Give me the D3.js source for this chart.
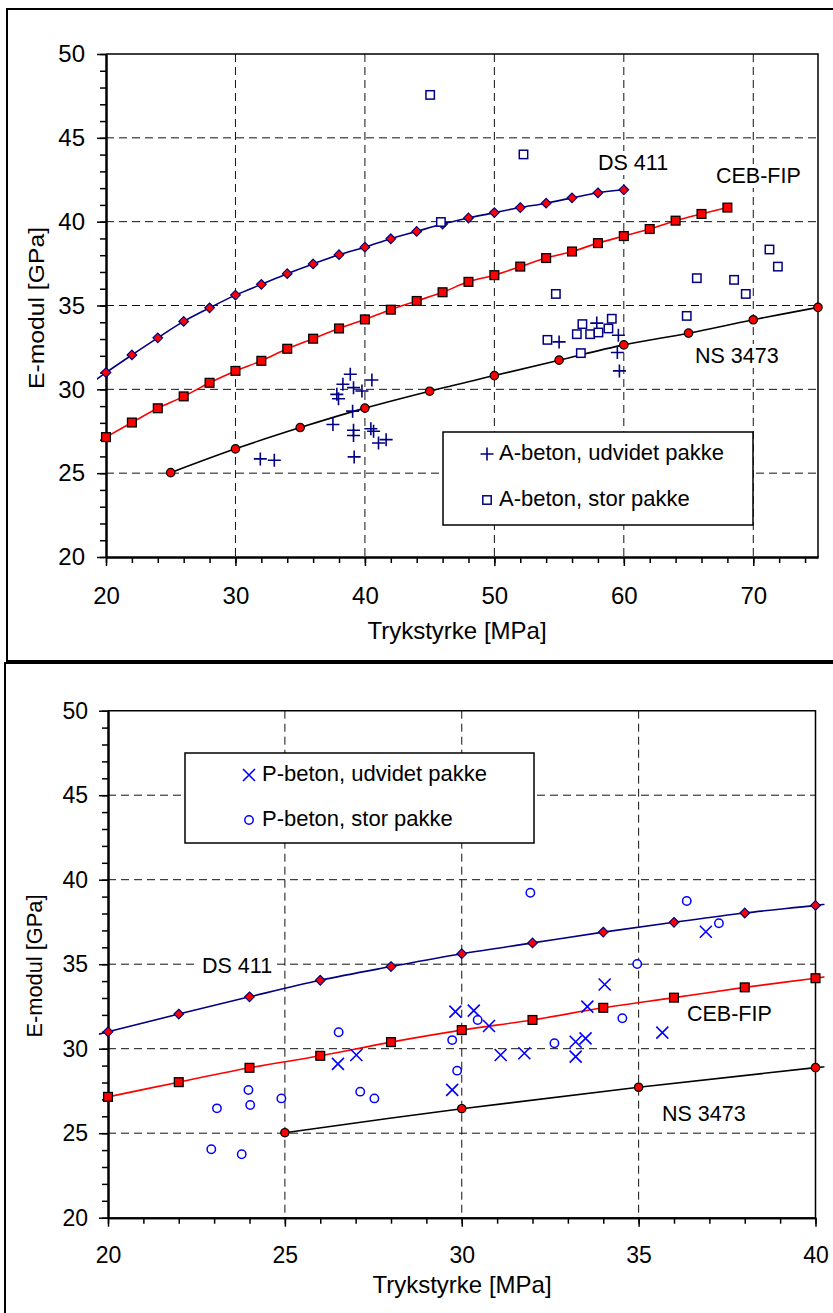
<!DOCTYPE html>
<html>
<head>
<meta charset="utf-8">
<script src="https://cdn.jsdelivr.net/npm/d3@7"></script>
<style>
  body { margin: 0; background: #fff; }
  svg { display: block; font-family: "Liberation Sans", Arial, sans-serif; }
</style>
</head>
<body>
<svg id="chart" width="833" height="1313"></svg>
<script>
// code curves (both panels share them, the lower one just shows 20-40 MPa)
const dsX  = [18, 20, 22, 24, 26, 28, 30, 32, 34, 36, 38, 40, 42, 44, 46, 48, 50, 52, 54, 56, 58, 60];
const dsY  = [29.9, 31.0, 32.05, 33.07, 34.05, 34.86, 35.62, 36.26, 36.9, 37.48, 38.03, 38.48, 38.98, 39.42, 39.86, 40.22, 40.54, 40.84, 41.1, 41.42, 41.72, 41.9];
const cebX = [20, 22, 24, 26, 28, 30, 32, 34, 36, 38, 40, 42, 44, 46, 48, 50, 52, 54, 56, 58, 60, 62, 64, 66, 68];
const cebY = [27.15, 28.02, 28.87, 29.58, 30.39, 31.1, 31.7, 32.42, 33.02, 33.63, 34.17, 34.75, 35.27, 35.79, 36.41, 36.81, 37.32, 37.83, 38.22, 38.72, 39.14, 39.56, 40.06, 40.46, 40.84];
const nsX  = [25, 30, 35, 40, 45, 50, 55, 60, 65, 70, 75];
const nsY  = [25.03, 26.45, 27.72, 28.88, 29.89, 30.82, 31.74, 32.65, 33.35, 34.15, 34.89];

// A-beton measurements (top panel)
const aUdvX = [31.92, 33.0, 37.53, 37.83, 37.96, 38.3, 38.87, 39.12, 39.77, 39.05, 39.12, 39.12, 39.17, 40.54, 40.46, 40.67, 41.05, 41.64, 55.0, 57.91, 59.58, 59.5, 59.66];
const aUdvY = [25.85, 25.77, 27.9, 29.7, 29.44, 30.3, 30.9, 30.1, 29.9, 28.7, 27.56, 27.25, 25.97, 30.56, 27.65, 27.5, 26.8, 27.0, 32.83, 33.95, 33.23, 32.2, 31.1];
const aStorX = [45.04, 52.25, 45.87, 54.75, 71.25, 71.9, 65.64, 68.52, 69.42, 64.86, 54.1, 56.68, 56.37, 57.4, 56.8, 58.04, 58.81, 59.07];
const aStorY = [47.56, 44.01, 39.98, 35.69, 38.34, 37.32, 36.63, 36.53, 35.69, 34.38, 32.95, 32.16, 33.29, 33.29, 33.89, 33.39, 33.63, 34.21];

// P-beton measurements (bottom panel)
const pUdvX = [26.5, 27.02, 29.82, 30.34, 30.77, 31.1, 31.77, 29.73, 33.55, 33.22, 33.5, 33.22, 35.67, 34.04, 36.9];
const pUdvY = [29.1, 29.63, 32.19, 32.25, 31.34, 29.63, 29.73, 27.56, 32.49, 30.41, 30.61, 29.53, 30.95, 33.8, 36.92];
const pStorX = [26.52, 23.08, 23.97, 24.02, 24.9, 22.92, 23.78, 27.13, 27.53, 31.94, 36.36, 37.27, 34.96, 30.45, 29.73, 29.87, 32.62, 34.54];
const pStorY = [30.97, 26.47, 27.56, 26.67, 27.06, 24.05, 23.75, 27.46, 27.06, 39.23, 38.74, 37.42, 35.01, 31.7, 30.51, 28.7, 30.32, 31.8];

const yTicks = [20, 25, 30, 35, 40, 45, 50];
const xTicksTop = [20, 30, 40, 50, 60, 70];
const xTicksBottom = [20, 25, 30, 35, 40];

const zip = (xs, ys) => xs.map((v, i) => [v, ys[i]]);

const svg = d3.select("#chart");
const FONT = "Liberation Sans, Arial, sans-serif";

// outer frames
svg.append("rect").attr("x", 7).attr("y", 9).attr("width", 840).attr("height", 652)
   .attr("fill", "none").attr("stroke", "#000").attr("stroke-width", 2);
svg.append("rect").attr("x", 5).attr("y", 663).attr("width", 840).attr("height", 700)
   .attr("fill", "none").attr("stroke", "#000").attr("stroke-width", 2);

const markers = {
  diamond: (s, r) => s.append("path").attr("d", `M0,${-r}L${r},0L0,${r}L${-r},0Z`)
                      .attr("fill", "#ff0000").attr("stroke", "#000080").attr("stroke-width", 1.2),
  square: (s, r) => s.append("rect").attr("x", -r).attr("y", -r).attr("width", 2 * r).attr("height", 2 * r)
                      .attr("fill", "#ff0000").attr("stroke", "#000").attr("stroke-width", 1.3),
  dot: (s, r) => s.append("circle").attr("r", r)
                      .attr("fill", "#ff0000").attr("stroke", "#000").attr("stroke-width", 1.2),
  plus: (s, r, c) => s.append("path").attr("d", `M${-r},0H${r}M0,${-r}V${r}`)
                      .attr("stroke", c).attr("stroke-width", 1.6).attr("fill", "none"),
  box: (s, r, c) => s.append("rect").attr("x", -r).attr("y", -r).attr("width", 2 * r).attr("height", 2 * r)
                      .attr("fill", "#fff").attr("stroke", c).attr("stroke-width", 1.5),
  cross: (s, r, c) => s.append("path").attr("d", `M${-r},${-r}L${r},${r}M${-r},${r}L${r},${-r}`)
                      .attr("stroke", c).attr("stroke-width", 1.6).attr("fill", "none"),
  ring: (s, r, c) => s.append("circle").attr("r", r)
                      .attr("fill", "#fff").attr("stroke", c).attr("stroke-width", 1.5)
};

function panel(p) {
  const g = svg.append("g");
  const x = d3.scaleLinear().domain(p.xDomain).range([p.left, p.right]);
  const y = d3.scaleLinear().domain([20, 50]).range([p.bottom, p.top]);
  const inX = v => v >= p.xDomain[0] - 1e-9 && v <= p.xDomain[1] + 1e-9;

  // dashed grid
  g.append("g").selectAll("line")
    .data(p.xTicks.filter(v => v > p.xDomain[0] && v < p.xDomain[1]))
    .join("line")
    .attr("x1", d => x(d)).attr("x2", d => x(d)).attr("y1", p.top).attr("y2", p.bottom)
    .attr("stroke", "#111").attr("stroke-dasharray", "8,5");
  g.append("g").selectAll("line")
    .data(yTicks.filter(v => v > 20 && v < 50))
    .join("line")
    .attr("x1", p.left).attr("x2", p.right).attr("y1", d => y(d)).attr("y2", d => y(d))
    .attr("stroke", "#111").attr("stroke-dasharray", "8,5");

  g.append("path").attr("d", `M${p.left},${p.top}H${p.right}V${p.bottom}`)
    .attr("fill", "none").attr("stroke", "#000").attr("stroke-width", 1.5);

  // axes: minor then major
  const minorX = d3.range(p.xDomain[0], p.xDomain[1] + 0.001, p.xMinor);
  const minorY = d3.range(20, 50.001, 1);
  g.append("g").attr("transform", `translate(0,${p.bottom})`)
    .call(d3.axisBottom(x).tickValues(minorX).tickSize(6).tickFormat("").tickSizeOuter(0));
  g.append("g").attr("transform", `translate(${p.left},0)`)
    .call(d3.axisLeft(y).tickValues(minorY).tickSize(6).tickFormat("").tickSizeOuter(0));
  const ax = g.append("g").attr("transform", `translate(0,${p.bottom})`)
    .call(d3.axisBottom(x).tickValues(p.xTicks).tickSize(9).tickPadding(p.xPad).tickSizeOuter(0).tickFormat(d3.format("d")));
  const ay = g.append("g").attr("transform", `translate(${p.left},0)`)
    .call(d3.axisLeft(y).tickValues(yTicks).tickSize(9).tickPadding(p.yPad).tickSizeOuter(0).tickFormat(d3.format("d")));
  g.selectAll(".domain").attr("stroke", "#000").attr("stroke-width", 2);
  g.selectAll(".tick line").attr("stroke", "#000").attr("stroke-width", 1.5);
  [ax, ay].forEach(a => a.selectAll("text").attr("font-family", FONT).attr("font-size", p.tickFont).attr("fill", "#000"));

  // axis titles
  g.append("text").attr("x", p.xTitle[0]).attr("y", p.xTitle[1]).attr("text-anchor", "middle")
    .attr("font-size", 24).text("Trykstyrke [MPa]");
  g.append("text").attr("transform", `translate(${p.yTitle[0]},${p.yTitle[1]}) rotate(-90)`)
    .attr("text-anchor", "middle").attr("font-size", p.yTitle[2])
    .attr("textLength", p.yTitle[3]).attr("lengthAdjust", "spacingAndGlyphs").text("E-modul [GPa]");

  // code curves, clipped a little outside the plot like the original
  const clipId = "clip" + p.id;
  svg.append("clipPath").attr("id", clipId).append("rect")
    .attr("x", p.left - 9).attr("y", p.top - 2).attr("width", p.right - p.left + 18).attr("height", p.bottom - p.top + 4);
  const line = d3.line().x(d => x(d[0])).y(d => y(d[1])).curve(d3.curveCatmullRom.alpha(0.5));
  const curves = [
    { pts: zip(dsX, dsY), color: "#000080", mark: "diamond", r: 4.8 },
    { pts: zip(cebX, cebY), color: "#ff0000", mark: "square", r: 4.4 },
    { pts: zip(nsX, nsY), color: "#000", mark: "dot", r: 4.2 }
  ];
  curves.forEach(c => {
    g.append("path").attr("d", line(c.pts)).attr("clip-path", `url(#${clipId})`)
      .attr("fill", "none").attr("stroke", c.color).attr("stroke-width", 1.6);
    g.append("g").selectAll("g").data(c.pts.filter(d => inX(d[0]))).join("g")
      .attr("transform", d => `translate(${x(d[0])},${y(d[1])})`)
      .each(function () { markers[c.mark](d3.select(this), c.r); });
  });

  // measurements
  p.scatter.forEach(s => {
    g.append("g").selectAll("g").data(s.pts).join("g")
      .attr("transform", d => `translate(${x(d[0])},${y(d[1])})`)
      .each(function () { markers[s.mark](d3.select(this), s.r, s.color); });
  });

  // curve labels with white backing
  p.labels.forEach(l => {
    const lg = g.append("g");
    const t = lg.append("text").attr("x", l[1]).attr("y", l[2]).attr("font-size", 21.5).text(l[0]);
    const b = t.node().getBBox();
    lg.insert("rect", "text").attr("x", b.x - 4).attr("y", b.y).attr("width", b.width + 8).attr("height", b.height)
      .attr("fill", "#fff");
  });

  // legend
  const L = p.legend;
  g.append("rect").attr("x", L.x).attr("y", L.y).attr("width", L.w).attr("height", L.h)
    .attr("fill", "#fff").attr("stroke", "#000").attr("stroke-width", 1.5);
  p.scatter.forEach((s, i) => {
    const sy = L.y + L.rows[i];
    markers[s.mark](g.append("g").attr("transform", `translate(${L.sx},${sy - 6})`), s.r, s.color);
    g.append("text").attr("x", L.tx).attr("y", sy).attr("font-size", 22).text(s.name);
  });
}

panel({
  id: "top", left: 106, right: 818, top: 54, bottom: 557,
  xDomain: [20, 75], xTicks: xTicksTop, xMinor: 2,
  xPad: 21, yPad: 12, tickFont: 24,
  xTitle: [457, 639], yTitle: [44, 308, 22, 162],
  scatter: [
    { name: "A-beton, udvidet pakke", pts: zip(aUdvX, aUdvY), mark: "plus", r: 6.5, color: "#000080" },
    { name: "A-beton, stor pakke", pts: zip(aStorX, aStorY), mark: "box", r: 4.2, color: "#000080" }
  ],
  labels: [["DS 411", 598, 170], ["CEB-FIP", 716, 183], ["NS 3473", 695, 363]],
  legend: { x: 443, y: 432, w: 310, h: 93, sx: 487, tx: 499, rows: [28, 74] }
});

panel({
  id: "bottom", left: 108, right: 815.5, top: 710.7, bottom: 1217.7,
  xDomain: [20, 40], xTicks: xTicksBottom, xMinor: 1,
  xPad: 20, yPad: 11, tickFont: 23,
  xTitle: [462, 1293], yTitle: [42, 966, 22, 143],
  scatter: [
    { name: "P-beton, udvidet pakke", pts: zip(pUdvX, pUdvY), mark: "cross", r: 6, color: "#0000ff" },
    { name: "P-beton, stor pakke", pts: zip(pStorX, pStorY), mark: "ring", r: 4.2, color: "#0000ff" }
  ],
  labels: [["DS 411", 202, 973], ["CEB-FIP", 687, 1021], ["NS 3473", 662, 1121]],
  legend: { x: 185, y: 753, w: 349, h: 90, sx: 249, tx: 262, rows: [28, 73] }
});
</script>
</body>
</html>
